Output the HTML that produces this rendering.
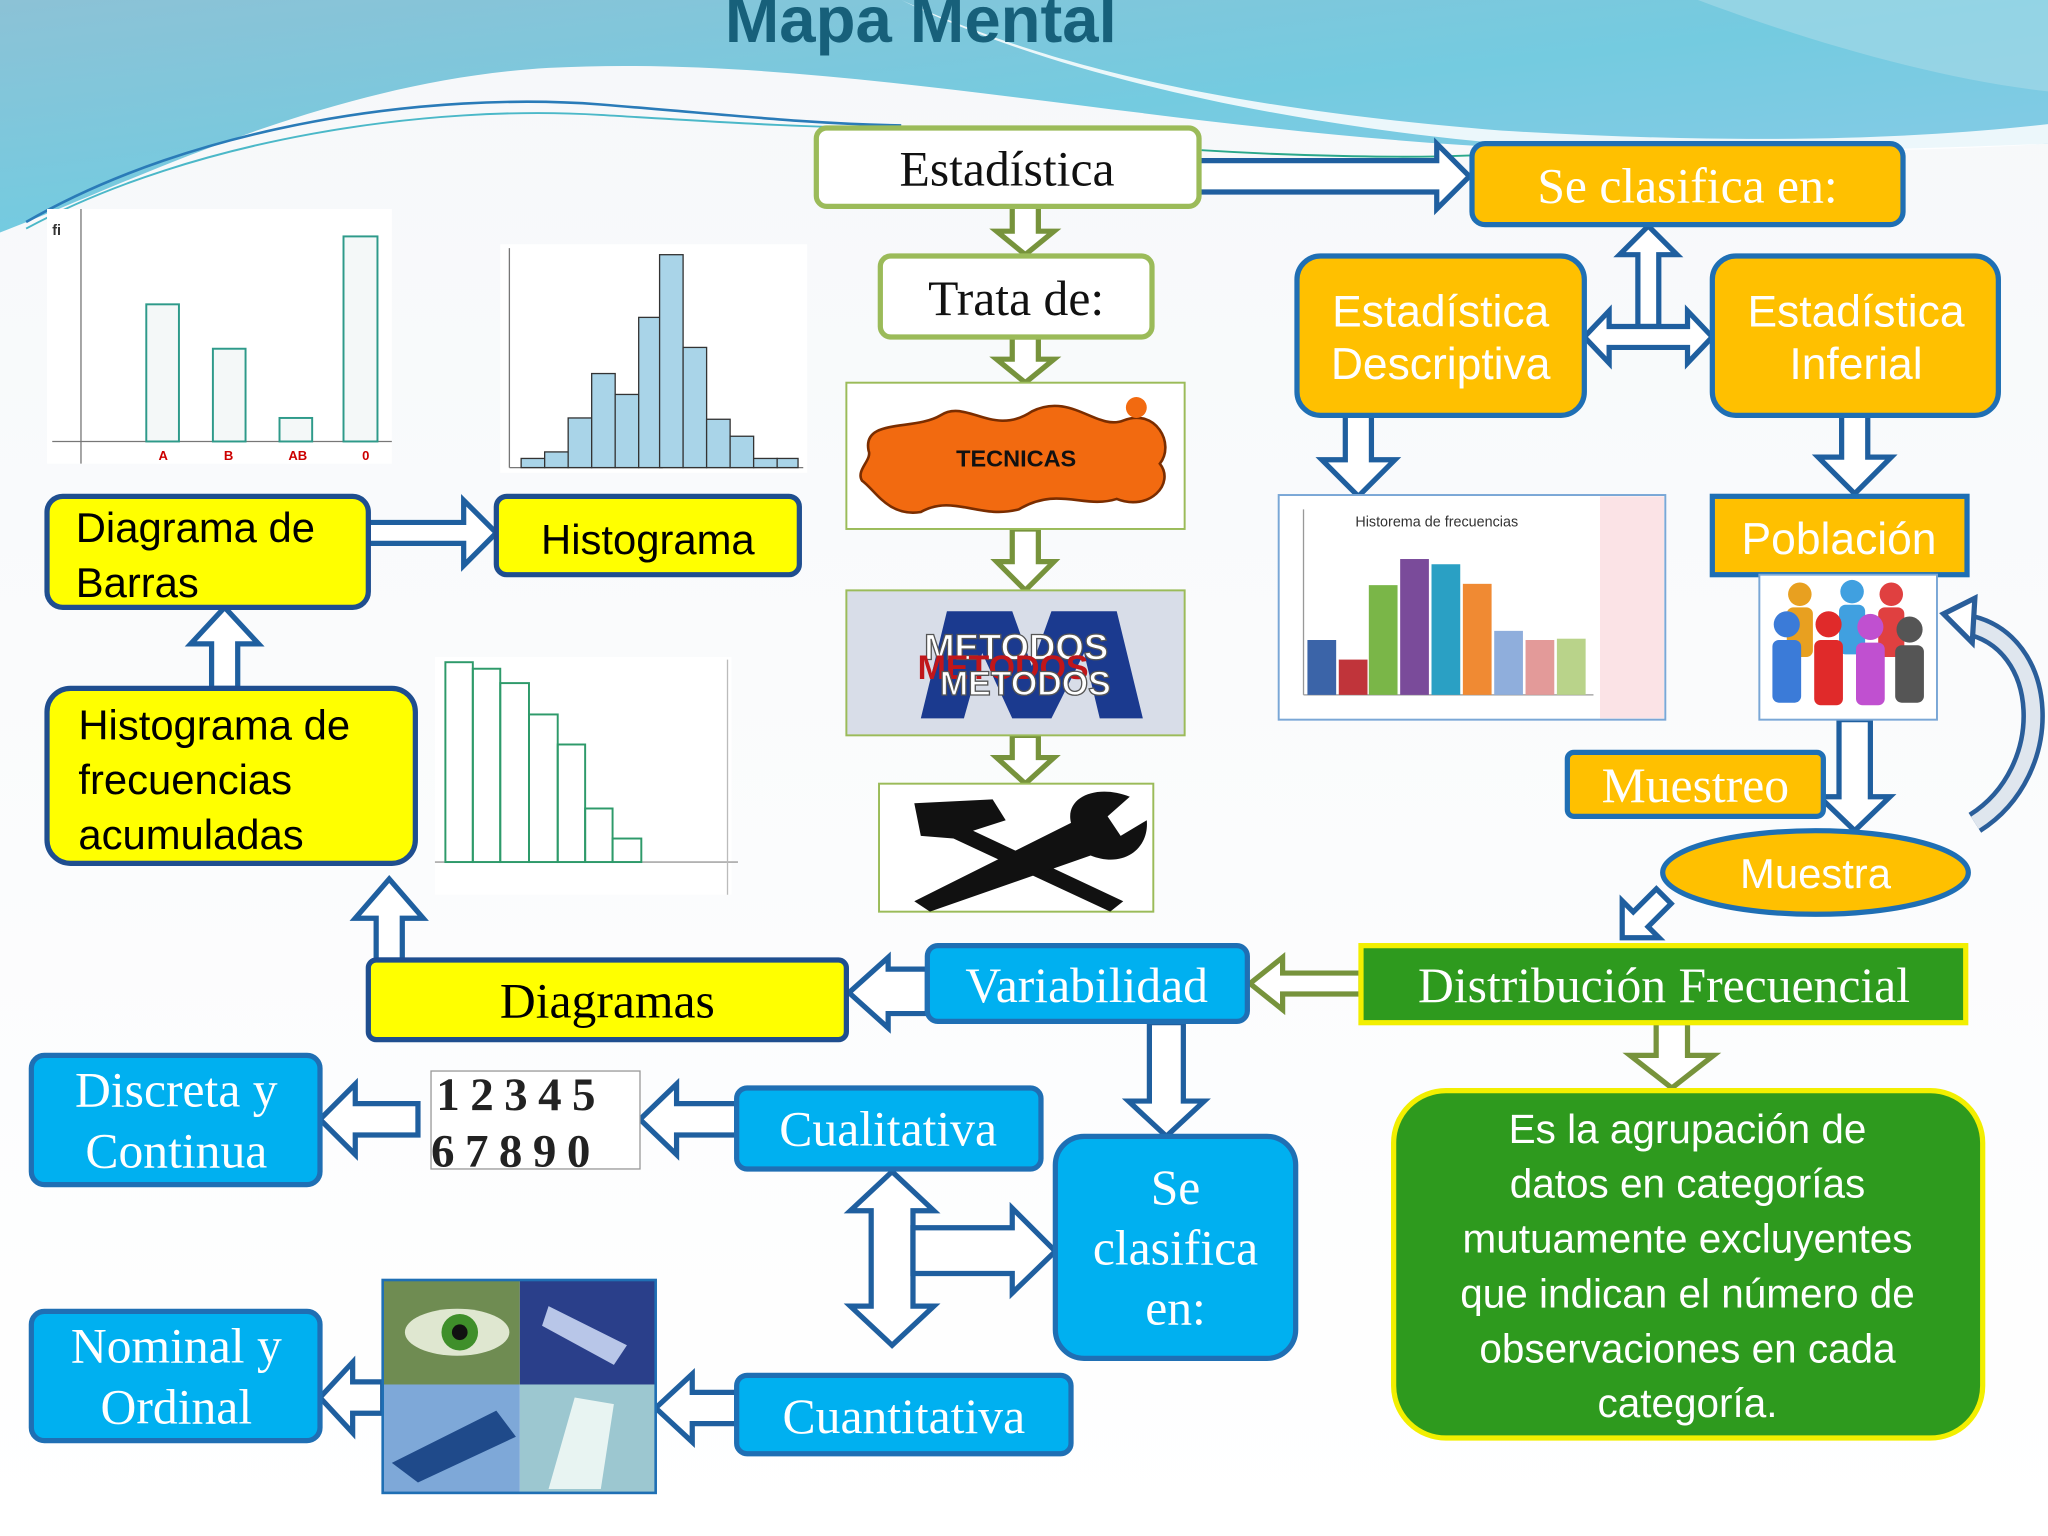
<!DOCTYPE html>
<html><head><meta charset="utf-8"><style>
html,body{margin:0;padding:0;width:2048px;height:1536px;overflow:hidden;background:#fff}
svg{display:block}
.se{font-family:"Liberation Serif",serif}
.sa{font-family:"Liberation Sans",sans-serif}
</style></head><body>
<svg width="2048" height="1536" viewBox="0 0 1568 1176" xmlns="http://www.w3.org/2000/svg">
<defs>
<linearGradient id="sky" x1="0" y1="0" x2="1" y2="1"><stop offset="0" stop-color="#8cc2d6"/><stop offset="0.5" stop-color="#74cbe0"/><stop offset="1" stop-color="#8ccbe8"/></linearGradient>
<linearGradient id="bg" x1="0" y1="0" x2="0" y2="1"><stop offset="0" stop-color="#f6f8fa"/><stop offset="1" stop-color="#ffffff"/></linearGradient>
</defs>
<rect width="1568" height="1176" fill="url(#bg)"/>
<path d="M0,0 H1568 V110 C1450,115 1300,118 1200,115 C900,105 650,40 420,52 C250,62 100,140 0,178 Z" fill="url(#sky)"/>
<path d="M690,0 C780,40 900,80 1150,100 C1350,112 1480,105 1568,95 V110 C1450,118 1250,118 1130,108 C950,90 790,50 690,0Z" fill="#fff" opacity="0.85"/>
<path d="M1300,0 H1568 V70 C1480,60 1380,30 1300,0Z" fill="#a9dbe8" opacity="0.6"/>
<path d="M20,170 C150,95 330,70 460,80 C560,88 620,95 690,96" fill="none" stroke="#2a7bb8" stroke-width="2"/>
<path d="M20,175 C150,105 330,80 460,88 C560,94 620,98 690,98" fill="none" stroke="#4bb8c8" stroke-width="1.5"/>
<path d="M920,115 C1000,120 1080,121 1126,119" fill="none" stroke="#2aa88a" stroke-width="1.5"/>
<text x="705" y="32" text-anchor="middle" class="sa" font-size="50" font-weight="bold" fill="#17607a">Mapa Mental</text>

<!-- green down arrows -->
<g fill="#fff" stroke="#77933c" stroke-width="4">
<polygon points="775,158 795,158 795,177 807,177 785,195 763,177 775,177"/>
<polygon points="775,258 795,258 795,275 807,275 785,293 763,275 775,275"/>
<polygon points="775,405 795,405 795,430 807,430 785,452 763,430 775,430"/>
<polygon points="775,563 795,563 795,580 807,580 785,600 763,580 775,580"/>
<polygon points="1042,745 982,745 982,733 957,753 982,773 982,761 1042,761"/>
<polygon points="1268,783 1292,783 1292,808 1312,808 1280,833 1248,808 1268,808"/>
</g>
<!-- blue arrows -->
<g fill="#fff" stroke="#1f5f9f" stroke-width="4">
<polygon points="905,123 1100,123 1100,110 1125,135 1100,160 1100,147 905,147"/>
<polygon points="1254,250 1254,195 1240,195 1262,173 1284,195 1270,195 1270,250"/>
<polygon points="1213,258 1232,238 1232,250 1292,250 1292,238 1311,258 1292,278 1292,266 1232,266 1232,278"/>
<polygon points="1030,318 1050,318 1050,352 1068,352 1040,380 1012,352 1030,352"/>
<polygon points="1410,318 1430,318 1430,350 1448,350 1420,378 1392,350 1410,350"/>
<polygon points="1408,551 1432,551 1432,610 1447,610 1420,636 1393,610 1408,610"/>
<g transform="translate(1242,718) rotate(135)"><polygon points="-45,-8 -20,-8 -20,-20 0,0 -20,20 -20,8 -45,8"/></g>
<polygon points="710,742 680,742 680,733 650,760 680,787 680,776 710,776"/>
<polygon points="880,783 906,783 906,843 922,843 893,870 864,843 880,843"/>
<polygon points="288,735 288,703 272,703 298,673 324,703 308,703 308,735"/>
<polygon points="162,527 162,493 146,493 172,465 198,493 182,493 182,527"/>
<polygon points="282,400 355,400 355,383 380,408 355,433 355,416 282,416"/>
<polygon points="564,845 518,845 518,830 490,857 518,884 518,869 564,869"/>
<polygon points="320,845 272,845 272,830 245,857 272,884 272,869 320,869"/>
<polygon points="564,1066 530,1066 530,1052 502,1078 530,1104 530,1090 564,1090"/>
<polygon points="293,1058 270,1058 270,1043 245,1070 270,1097 270,1082 293,1082"/>
<polygon points="683,897 715,927 699,927 699,1000 715,1000 683,1030 651,1000 667,1000 667,927 651,927"/>
<polygon points="699,940 775,940 775,925 808,958 775,990 775,975 699,975"/>
</g>
<!-- curved arrow -->
<path d="M1512,630 C1575,590 1570,490 1505,478" fill="none" stroke="#2a5e9a" stroke-width="18"/>
<path d="M1512,630 C1575,590 1570,490 1505,478" fill="none" stroke="#dfe6ee" stroke-width="11"/>
<polygon points="1488,470 1512,458 1510,492" fill="#fff" stroke="#2a5e9a" stroke-width="4"/>

<!-- Estadistica column -->
<rect x="625" y="98" width="293" height="60" rx="8" fill="#fff" stroke="#9bbb59" stroke-width="4"/>
<text x="771" y="142" text-anchor="middle" class="se" font-size="38" fill="#111">Estadística</text>
<rect x="674" y="196" width="208" height="62" rx="8" fill="#fff" stroke="#9bbb59" stroke-width="4"/>
<text x="778" y="241" text-anchor="middle" class="se" font-size="38" fill="#111">Trata de:</text>

<!-- tecnicas -->
<rect x="648" y="293" width="259" height="112" fill="#fff" stroke="#9bbb59" stroke-width="1.5"/>
<path d="M665,345 C660,320 700,330 720,318 C740,305 760,335 790,315 C820,300 840,330 860,322 C885,312 900,340 888,355 C900,370 880,392 855,382 C830,390 810,372 780,390 C750,398 730,378 705,392 C680,396 670,375 660,368 C655,360 668,352 665,345Z" fill="#f26a10" stroke="#7a2d00" stroke-width="2"/>
<circle cx="870" cy="312" r="8" fill="#f26a10"/>
<text x="778" y="357" text-anchor="middle" class="sa" font-size="18" font-weight="bold" fill="#111">TECNICAS</text>
<!-- metodos -->
<rect x="648" y="452" width="259" height="111" fill="#d8dde8" stroke="#9bbb59" stroke-width="1.5"/>
<path d="M705,550 L725,468 L775,468 L790,510 L805,468 L855,468 L875,550 L842,550 L830,500 L805,550 L775,550 L752,500 L738,550Z" fill="#1b3a8f"/>
<text x="778" y="505" text-anchor="middle" class="sa" font-size="28" font-weight="bold" fill="#fff" stroke="#555" stroke-width="1">METODOS</text>
<text x="768" y="520" text-anchor="middle" class="sa" font-size="26" font-weight="bold" fill="#c0161a">METODOS</text>
<text x="785" y="532" text-anchor="middle" class="sa" font-size="26" font-weight="bold" fill="#fff" stroke="#555" stroke-width="1">METODOS</text>
<!-- tools -->
<rect x="673" y="600" width="210" height="98" fill="#fff" stroke="#9bbb59" stroke-width="1.5"/>
<path d="M700,615 L760,612 L770,628 L745,636 L860,690 L850,698 L730,642 L705,640Z" fill="#111"/>
<path d="M700,690 L820,630 C815,610 840,600 865,610 L848,625 L858,640 L878,628 C880,650 860,665 835,655 L712,698Z" fill="#111"/>

<!-- orange -->
<g stroke="#1f6fb4" stroke-width="4" fill="#ffc000">
<rect x="1127" y="110" width="330" height="62" rx="10"/>
<rect x="993" y="196" width="220" height="122" rx="18"/>
<rect x="1311" y="196" width="219" height="122" rx="18"/>
<rect x="1311" y="380" width="195" height="60"/>
<rect x="1200" y="576" width="196" height="49" rx="5"/>
<ellipse cx="1390" cy="668" rx="117" ry="32"/>
</g>
<text x="1292" y="155" text-anchor="middle" class="se" font-size="38" fill="#fff">Se clasifica en:</text>
<text x="1103" y="250" text-anchor="middle" class="sa" font-size="34" fill="#fff">Estadística</text>
<text x="1103" y="290" text-anchor="middle" class="sa" font-size="34" fill="#fff">Descriptiva</text>
<text x="1421" y="250" text-anchor="middle" class="sa" font-size="34" fill="#fff">Estadística</text>
<text x="1421" y="290" text-anchor="middle" class="sa" font-size="34" fill="#fff">Inferial</text>
<text x="1408" y="424" text-anchor="middle" class="sa" font-size="34" fill="#fff">Población</text>
<text x="1298" y="614" text-anchor="middle" class="se" font-size="38" fill="#fff">Muestreo</text>
<text x="1390" y="680" text-anchor="middle" class="sa" font-size="32" fill="#fff">Muestra</text>

<!-- right chart -->
<rect x="979" y="379" width="296" height="172" fill="#fff" stroke="#7aa7d6" stroke-width="1.5"/>
<rect x="1225" y="380" width="49" height="170" fill="#fbe3e6"/>
<text x="1100" y="403" text-anchor="middle" class="sa" font-size="11" fill="#333">Historema de frecuencias</text>
<line x1="998" y1="390" x2="998" y2="532" stroke="#999"/><line x1="998" y1="532" x2="1220" y2="532" stroke="#999"/>
<rect x="1001" y="490" width="22" height="42" fill="#3b64a8"/>
<rect x="1025" y="505" width="22" height="27" fill="#c0343a"/>
<rect x="1048" y="448" width="22" height="84" fill="#7ab648"/>
<rect x="1072" y="428" width="22" height="104" fill="#7a4b9a"/>
<rect x="1096" y="432" width="22" height="100" fill="#2aa0c4"/>
<rect x="1120" y="447" width="22" height="85" fill="#f08a33"/>
<rect x="1144" y="483" width="22" height="49" fill="#8faedc"/>
<rect x="1168" y="490" width="22" height="42" fill="#e39a99"/>
<rect x="1192" y="489" width="22" height="43" fill="#b9d38a"/>
<!-- people -->
<rect x="1347" y="440" width="136" height="111" fill="#fff" stroke="#7aa7d6" stroke-width="1.5"/>
<g>
<circle cx="1378" cy="455" r="9" fill="#e8a020"/><rect x="1368" y="465" width="20" height="38" rx="5" fill="#e8a020"/>
<circle cx="1418" cy="453" r="9" fill="#40a0e0"/><rect x="1408" y="463" width="20" height="38" rx="5" fill="#40a0e0"/>
<circle cx="1448" cy="455" r="9" fill="#e04040"/><rect x="1438" y="465" width="20" height="38" rx="5" fill="#e04040"/>
<circle cx="1368" cy="478" r="10" fill="#3b7bd8"/><rect x="1357" y="490" width="22" height="48" rx="5" fill="#3b7bd8"/>
<circle cx="1400" cy="478" r="10" fill="#e02a2a"/><rect x="1389" y="490" width="22" height="50" rx="5" fill="#e02a2a"/>
<circle cx="1432" cy="480" r="10" fill="#c050d0"/><rect x="1421" y="492" width="22" height="48" rx="5" fill="#c050d0"/>
<circle cx="1462" cy="482" r="10" fill="#555"/><rect x="1451" y="494" width="22" height="44" rx="5" fill="#555"/>
</g>

<!-- distribucion -->
<rect x="1042" y="724" width="463" height="59" fill="#2e9a1e" stroke="#f2ef00" stroke-width="4"/>
<text x="1274" y="767" text-anchor="middle" class="se" font-size="38" fill="#fff">Distribución Frecuencial</text>
<rect x="1067" y="835" width="451" height="266" rx="40" fill="#2e9a1e" stroke="#f2ef00" stroke-width="4"/>
<g class="sa" font-size="31" fill="#fff" text-anchor="middle">
<text x="1292" y="875">Es la agrupación de</text>
<text x="1292" y="917">datos en categorías</text>
<text x="1292" y="959">mutuamente excluyentes</text>
<text x="1292" y="1001">que indican el número de</text>
<text x="1292" y="1043">observaciones en cada</text>
<text x="1292" y="1085">categoría.</text>
</g>

<!-- blue boxes -->
<g fill="#00b0f0" stroke="#1f6fb4" stroke-width="4">
<rect x="710" y="724" width="245" height="58" rx="8"/>
<rect x="808" y="870" width="184" height="170" rx="22"/>
<rect x="564" y="833" width="233" height="62" rx="8"/>
<rect x="564" y="1053" width="256" height="60" rx="8"/>
<rect x="24" y="808" width="221" height="99" rx="10"/>
<rect x="24" y="1004" width="221" height="99" rx="10"/>
</g>
<g class="se" fill="#fff" text-anchor="middle" font-size="38">
<text x="832" y="767">Variabilidad</text>
<text x="900" y="922">Se</text>
<text x="900" y="968">clasifica</text>
<text x="900" y="1014">en:</text>
<text x="680" y="877">Cualitativa</text>
<text x="692" y="1097">Cuantitativa</text>
<text x="135" y="847">Discreta y</text>
<text x="135" y="894">Continua</text>
<text x="135" y="1043">Nominal y</text>
<text x="135" y="1090">Ordinal</text>
</g>

<!-- numbers image -->
<rect x="330" y="820" width="160" height="75" fill="#fff" stroke="#999"/>
<g class="se" font-size="36" font-weight="bold" fill="#222">
<text x="334" y="850" letter-spacing="8">12345</text>
<text x="330" y="893" letter-spacing="8">67890</text>
</g>
<!-- photo collage -->
<rect x="293" y="980" width="105" height="80" fill="#6f8c52"/>
<ellipse cx="350" cy="1020" rx="40" ry="18" fill="#dfe7d0"/><circle cx="352" cy="1020" r="14" fill="#3f8f2a"/><circle cx="352" cy="1020" r="6" fill="#111"/>
<rect x="398" y="980" width="104" height="80" fill="#2a3f8a"/>
<path d="M420,1000 L480,1030 L470,1045 L415,1015Z" fill="#b8c6e8"/>
<rect x="293" y="1060" width="105" height="83" fill="#7ea8d8"/>
<path d="M300,1120 L380,1080 L395,1100 L320,1135Z" fill="#1f4a8a"/>
<rect x="398" y="1060" width="104" height="83" fill="#9cc7d0"/>
<path d="M420,1140 L440,1070 L470,1075 L460,1140Z" fill="#e8f4f2"/>
<rect x="293" y="980" width="209" height="163" fill="none" stroke="#1f6fb4" stroke-width="2"/>

<!-- yellow boxes -->
<g fill="#ffff00" stroke="#1f4e8f" stroke-width="4">
<rect x="282" y="735" width="366" height="61" rx="6"/>
<rect x="36" y="527" width="282" height="134" rx="18"/>
<rect x="36" y="380" width="246" height="85" rx="12"/>
<rect x="380" y="380" width="232" height="60" rx="8"/>
</g>
<g class="sa" fill="#000" font-size="32">
<text x="465" y="779" text-anchor="middle" class="se" font-size="38">Diagramas</text>
<text x="60" y="566">Histograma de</text>
<text x="60" y="608">frecuencias</text>
<text x="60" y="650">acumuladas</text>
<text x="58" y="415">Diagrama de</text>
<text x="58" y="457">Barras</text>
<text x="496" y="424" text-anchor="middle">Histograma</text>
</g>

<!-- bar chart -->
<rect x="36" y="160" width="264" height="195" fill="#fff"/>
<line x1="62" y1="160" x2="62" y2="355" stroke="#777"/><line x1="40" y1="338" x2="300" y2="338" stroke="#777"/>
<g fill="#f4f8f8" stroke="#2e9a8a" stroke-width="1.5">
<rect x="112" y="233" width="25" height="105"/><rect x="163" y="267" width="25" height="71"/>
<rect x="214" y="320" width="25" height="18"/><rect x="263" y="181" width="26" height="157"/>
</g>
<g class="sa" font-size="10" fill="#c00" font-weight="bold" text-anchor="middle">
<text x="125" y="352">A</text><text x="175" y="352">B</text><text x="228" y="352">AB</text><text x="280" y="352">0</text></g>
<text x="40" y="180" class="sa" font-size="11" fill="#333" font-weight="bold">fi</text>
<!-- histogram -->
<rect x="383" y="187" width="235" height="175" fill="#fff"/>
<line x1="390" y1="190" x2="390" y2="358" stroke="#777"/><line x1="390" y1="358" x2="615" y2="358" stroke="#777"/>
<g fill="#a9d4e8" stroke="#333" stroke-width="1">
<rect x="399" y="351" width="18" height="7"/><rect x="417" y="346" width="18" height="12"/>
<rect x="435" y="320" width="18" height="38"/><rect x="453" y="286" width="18" height="72"/>
<rect x="471" y="302" width="18" height="56"/><rect x="489" y="243" width="18" height="115"/>
<rect x="505" y="195" width="18" height="163"/><rect x="523" y="266" width="18" height="92"/>
<rect x="541" y="321" width="18" height="37"/><rect x="559" y="334" width="18" height="24"/>
<rect x="577" y="351" width="18" height="7"/><rect x="595" y="351" width="16" height="7"/>
</g>
<!-- cumulative -->
<rect x="333" y="503" width="227" height="182" fill="#fff"/>
<line x1="333" y1="660" x2="565" y2="660" stroke="#999"/><line x1="557" y1="505" x2="557" y2="685" stroke="#bbb"/>
<g fill="none" stroke="#2e9a6a" stroke-width="1.5">
<rect x="341" y="507" width="21" height="153"/><rect x="362" y="512" width="21" height="148"/>
<rect x="383" y="523" width="22" height="137"/><rect x="405" y="547" width="22" height="113"/>
<rect x="427" y="570" width="21" height="90"/><rect x="448" y="619" width="21" height="41"/>
<rect x="469" y="642" width="22" height="18"/>
</g>
</svg>
</body></html>
